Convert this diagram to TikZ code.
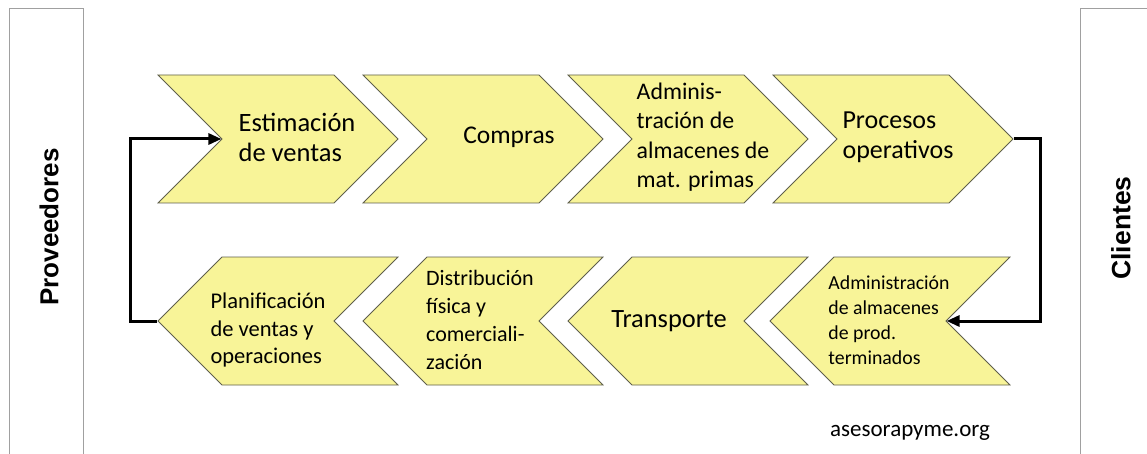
\documentclass[tikz,border=0pt]{standalone}
\usepackage{fontspec}
\setmainfont{Carlito}
\newfontfamily\sidefont{Liberation Sans}
\usepackage{tikz}
\usetikzlibrary{shapes.symbols,arrows.meta}
\definecolor{chevfill}{RGB}{248,244,152}
\definecolor{chevline}{RGB}{95,95,75}
\definecolor{boxline}{RGB}{160,160,160}
\def\fs#1#2{\fontsize{#1}{#2}\selectfont}
\tikzset{
	chevR/.style={shape=signal, signal to=east, signal from=west, signal pointer angle=90,
		minimum width=240pt, minimum height=128pt, inner sep=0pt, draw=chevline, fill=chevfill, line width=0.8pt},
	chevL/.style={chevR, signal to=west, signal from=east},
	lbl/.style={inner sep=0pt, align=left},
	flow/.style={line width=3pt, -{Triangle[length=13pt,width=11pt]}},
}

\begin{document}
\begin{tikzpicture}[x=1pt,y=-1pt]
		%%%%% START %%%%%
		\useasboundingbox[fill=white] (0,0) rectangle (1147,454);
		
		\draw[boxline, line width=1pt] (9,9) rectangle (83,470);
		\draw[boxline, line width=1pt] (1080,9) rectangle (1170,470);
		\node[rotate=90, font=\sidefont\bfseries\fs{26}{30}] (prov) at (49,227) {Proveedores};
		\node[rotate=90, font=\sidefont\bfseries\fs{26.5}{30}] (cli) at (1121,228) {Clientes};
		
		% upper row
		\node[chevR] (est) at (278,139) {};
		\node[chevR] (comp) at (483,139) {};
		\node[chevR] (admA) at (688,139) {};
		\node[chevR] (proc) at (893,139) {};
		
		% lower row
		\node[chevL] (plan) at (278,321) {};
		\node[chevL] (dist) at (483,321) {};
		\node[chevL] (trans) at (688,321) {};
		\node[chevL] (admB) at (890,321) {};
		
		\node[lbl, font=\fs{26.5}{30}] (estT) at (297,137) {Estimación\\de ventas};
		\node[lbl, font=\fs{25.5}{29}] (compT) at (509,137) {Compras};
		\node[lbl, font=\fs{23.8}{29.5}] (admAT) at (703,137) {Adminis-\\tración de\\almacenes de\\mat. primas};
		\node[lbl, font=\fs{26}{30}] (procT) at (898,137) {Procesos\\operativos};
		
		\node[lbl, font=\fs{22.5}{27.5}] (planT) at (268,330) {Planificación\\de ventas y\\operaciones};
		\node[lbl, font=\fs{22}{28}] (distT) at (480,320) {Distribución\\física y\\comerciali-\\zación};
		\node[lbl, font=\fs{26.4}{30}] (transT) at (669,321) {Transporte};
		\node[lbl, font=\fs{19.8}{25}] (admBT) at (889,320) {Administración\\de almacenes\\de prod.\\terminados};
		
		% loop arrows
		\coordinate (rgt) at (1040,139);
		\coordinate (lft) at (130,321);
		\draw[flow] (proc.east) -- (rgt) |- (admB.east);
		\draw[flow] (plan.west) -- (lft) |- (est.west);
		
		\node[lbl, font=\fs{23}{28}] (web) at (910,433) {asesorapyme.org};
		%%%%% END %%%%%
\end{tikzpicture}
\end{document}
